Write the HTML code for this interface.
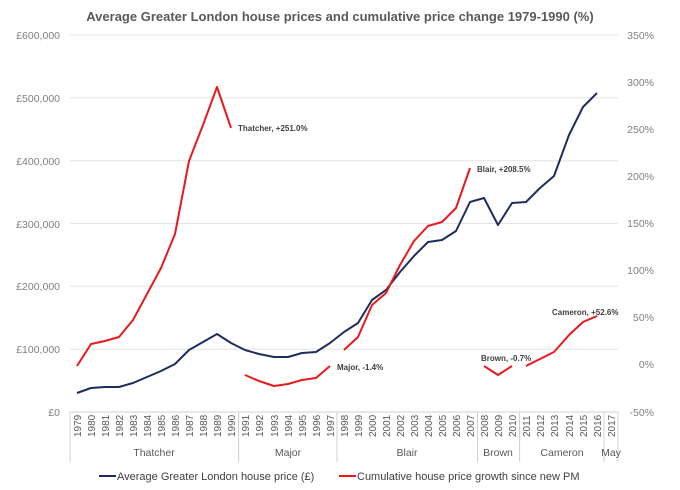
<!DOCTYPE html>
<html><head><meta charset="utf-8"><style>body{margin:0;background:#fff}svg{display:block;font-family:"Liberation Sans",sans-serif}</style></head><body>
<svg width="680" height="490" viewBox="0 0 680 490" xmlns="http://www.w3.org/2000/svg">
<text x="340" y="21" text-anchor="middle" font-size="13" font-weight="bold" fill="#595959">Average Greater London house prices and cumulative price change 1979-1990 (%)</text>
<g stroke="#e4e4e4" stroke-width="1">
<line x1="70" x2="618" y1="35" y2="35"/><line x1="70" x2="618" y1="97.8" y2="97.8"/><line x1="70" x2="618" y1="160.7" y2="160.7"/><line x1="70" x2="618" y1="223.5" y2="223.5"/><line x1="70" x2="618" y1="286.3" y2="286.3"/><line x1="70" x2="618" y1="349.2" y2="349.2"/>
</g>
<line x1="70" x2="618" y1="412" y2="412" stroke="#d0d0d0"/>
<g font-size="10.5" fill="#7f7f7f" text-anchor="end">
<text x="60" y="39">£600,000</text><text x="60" y="102">£500,000</text><text x="60" y="165">£400,000</text><text x="60" y="228">£300,000</text><text x="60" y="290">£200,000</text><text x="60" y="353">£100,000</text><text x="60" y="416">£0</text>
</g>
<g font-size="10.5" fill="#7f7f7f" text-anchor="end">
<text x="654" y="39">350%</text><text x="654" y="86">300%</text><text x="654" y="133">250%</text><text x="654" y="180">200%</text><text x="654" y="227">150%</text><text x="654" y="274">100%</text><text x="654" y="321">50%</text><text x="654" y="368">0%</text><text x="654" y="416">-50%</text>
</g>
<g stroke="#d0d0d0">
<line x1="70" x2="70" y1="412" y2="462"/><line x1="238.6" x2="238.6" y1="412" y2="462"/><line x1="337" x2="337" y1="412" y2="462"/><line x1="477.5" x2="477.5" y1="412" y2="462"/><line x1="519.6" x2="519.6" y1="412" y2="462"/><line x1="604" x2="604" y1="412" y2="462"/><line x1="618" x2="618" y1="412" y2="462"/>
</g>
<g font-size="10" fill="#595959" id="yrs"></g>
<g font-size="10.5" fill="#595959" text-anchor="middle">
<text x="154" y="456">Thatcher</text><text x="288" y="456">Major</text><text x="407" y="456">Blair</text><text x="498" y="456">Brown</text><text x="562" y="456">Cameron</text><text x="611" y="456">May</text>
</g>
<g fill="none" stroke-width="2" stroke-linejoin="round">
<polyline stroke="#1f2d5e" points="77,393 91,388 105,387 119,387 133,383 147,377 161,371 175,364 189,350 203,342 217,334 231,343 245,350 259,354 274,357 288,357 302,353 316,352 330,343 344,332 358,323 372,300 386,290 400,272 414,256 428,242 442,240 456,231 470,202 484,198 498,225 512,203 526,202 540,188 554,176 569,135 583,107 597,93"/>
<polyline stroke="#e8191f" points="77,366 91,344 105,341 119,337 133,320 147,294 161,268 175,234 189,161 203,125 217,87 231,128"/>
<polyline stroke="#e8191f" points="245,375 259,381 274,386 288,384 302,380 316,378 330,366"/>
<polyline stroke="#e8191f" points="344,350 358,337 372,305 386,293 400,265 414,241 428,226 442,222 456,208 470,168"/>
<polyline stroke="#e8191f" points="484,366 498,375 512,366"/>
<polyline stroke="#e8191f" points="526,366 540,359 554,352 569,335 583,322 597,316"/>
</g>
<g font-size="8" font-weight="bold" fill="#404040">
<text x="238" y="131">Thatcher, +251.0%</text>
<text x="337" y="370">Major, -1.4%</text>
<text x="477" y="172">Blair, +208.5%</text>
<text x="481" y="361">Brown, -0.7%</text>
<text x="552" y="315">Cameron, +52.6%</text>
</g>
<g font-size="11" fill="#404040">
<line x1="99" x2="116" y1="476" y2="476" stroke="#1f2d5e" stroke-width="2"/>
<text x="117" y="480">Average Greater London house price (£)</text>
<line x1="339" x2="356" y1="476" y2="476" stroke="#e8191f" stroke-width="2"/>
<text x="357" y="480">Cumulative house price growth since new PM</text>
</g>
<g font-size="10" fill="#595959">
<text transform="translate(81,437) rotate(-90)">1979</text><text transform="translate(95,437) rotate(-90)">1980</text><text transform="translate(109,437) rotate(-90)">1981</text><text transform="translate(123,437) rotate(-90)">1982</text><text transform="translate(137,437) rotate(-90)">1983</text><text transform="translate(151,437) rotate(-90)">1984</text><text transform="translate(165,437) rotate(-90)">1985</text><text transform="translate(179,437) rotate(-90)">1986</text><text transform="translate(193,437) rotate(-90)">1987</text><text transform="translate(207,437) rotate(-90)">1988</text><text transform="translate(221,437) rotate(-90)">1989</text><text transform="translate(235,437) rotate(-90)">1990</text><text transform="translate(249,437) rotate(-90)">1991</text><text transform="translate(263,437) rotate(-90)">1992</text><text transform="translate(278,437) rotate(-90)">1993</text><text transform="translate(292,437) rotate(-90)">1994</text><text transform="translate(306,437) rotate(-90)">1995</text><text transform="translate(320,437) rotate(-90)">1996</text><text transform="translate(334,437) rotate(-90)">1997</text><text transform="translate(348,437) rotate(-90)">1998</text><text transform="translate(362,437) rotate(-90)">1999</text><text transform="translate(376,437) rotate(-90)">2000</text><text transform="translate(390,437) rotate(-90)">2001</text><text transform="translate(404,437) rotate(-90)">2002</text><text transform="translate(418,437) rotate(-90)">2003</text><text transform="translate(432,437) rotate(-90)">2004</text><text transform="translate(446,437) rotate(-90)">2005</text><text transform="translate(460,437) rotate(-90)">2006</text><text transform="translate(474,437) rotate(-90)">2007</text><text transform="translate(488,437) rotate(-90)">2008</text><text transform="translate(502,437) rotate(-90)">2009</text><text transform="translate(516,437) rotate(-90)">2010</text><text transform="translate(530,437) rotate(-90)">2011</text><text transform="translate(544,437) rotate(-90)">2012</text><text transform="translate(558,437) rotate(-90)">2013</text><text transform="translate(573,437) rotate(-90)">2014</text><text transform="translate(587,437) rotate(-90)">2015</text><text transform="translate(601,437) rotate(-90)">2016</text><text transform="translate(615,437) rotate(-90)">2017</text>
</g>
</svg>
</body></html>
